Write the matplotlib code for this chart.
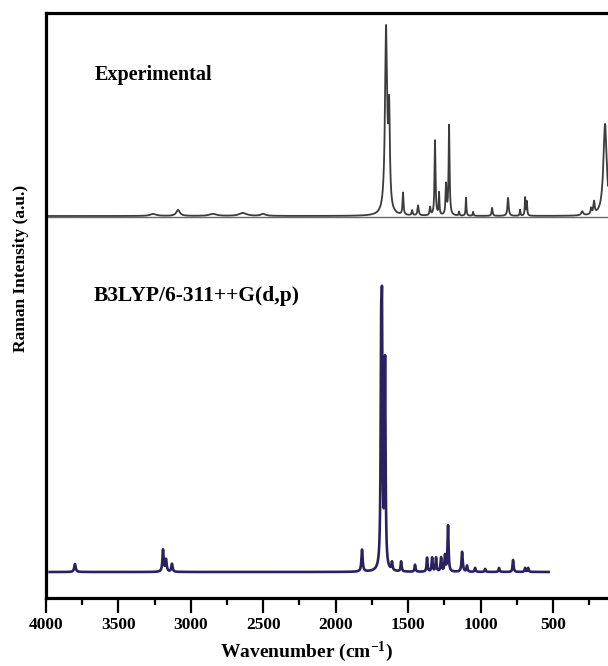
import numpy as np
import matplotlib
matplotlib.use("Agg")
import matplotlib.pyplot as plt
from matplotlib.ticker import MultipleLocator

plt.rcParams['font.family'] = ['Liberation Serif', 'DejaVu Serif']
plt.rcParams['font.weight'] = 'bold'
plt.rcParams['axes.labelweight'] = 'bold'
plt.rcParams['mathtext.default'] = 'regular'

# experimental Raman peaks: position (cm-1), height (a.u.), half width (cm-1)
exp_pos = [3260, 3088, 2847, 2640, 2500, 1652, 1631, 1535, 1472, 1431, 1348, 1314,
           1286, 1238, 1217, 1148, 1100, 1051, 920, 810, 727, 692, 680,
           298, 236, 216, 140]
exp_height = [2, 6, 2, 3, 2, 184, 92, 22, 5, 10, 8, 75,
              22, 30, 90, 4, 18, 4, 8, 18, 6, 18, 14,
              4, 6, 12, 92]
exp_width = [25, 15, 30, 30, 20, 9, 6, 4, 4, 5, 4, 4,
             3, 4, 4, 3, 3, 3, 4, 5, 3, 3, 3,
             8, 5, 5, 14]

# B3LYP/6-311++G(d,p) calculated peaks
calc_pos = [3800, 3192, 3171, 3130, 1818, 1686, 1680, 1659, 1611, 1548, 1452,
            1369, 1334, 1307, 1272, 1245, 1224, 1127, 1093, 1037, 968, 872,
            775, 692, 671]
calc_height = [8, 22, 12, 8, 22, 195, 215, 205, 8, 10, 7,
               14, 14, 14, 14, 16, 46, 20, 6, 4, 3, 4,
               12, 4, 4]
calc_width = [6, 5, 5, 5, 5, 4, 4, 4, 4, 4, 4,
              4, 4, 4, 4, 4, 4, 5, 4, 4, 4, 4,
              4, 4, 4]

exp_offset = 382
calc_offset = 26

wn_exp = np.linspace(120, 3990, 20000)
wn_calc = np.linspace(530, 3975, 20000)


def lorentz(x, pos, h, w):
    y = np.zeros_like(x)
    for p, a, g in zip(pos, h, w):
        y += a * g ** 2 / ((x - p) ** 2 + g ** 2)
    return y


y_exp = exp_offset + lorentz(wn_exp, exp_pos, exp_height, exp_width)
y_calc = calc_offset + lorentz(wn_calc, calc_pos, calc_height, calc_width)

fig = plt.figure(figsize=(6.08, 6.66), dpi=100)
ax = fig.add_axes([46 / 608, 68 / 666, 562 / 608, 585 / 666])

# baseline of the experimental trace
ax.axhline(exp_offset - 1, color='#6a6a6a', lw=1.0)
ax.plot(wn_exp, y_exp, color='#3c3c3c', lw=1.3)
ax.plot(wn_calc, y_calc, color='#2a2260', lw=1.9)

ax.set_xlim(4000, 120)
ax.set_ylim(0, 585)
ax.xaxis.set_major_locator(MultipleLocator(500))
ax.xaxis.set_minor_locator(MultipleLocator(250))
ax.set_yticks([])
ax.tick_params(axis='x', which='major', direction='out', length=10.5, width=1.6,
               labelsize=12.5, pad=3)
ax.tick_params(axis='x', which='minor', direction='out', length=5, width=1.6)

for s in ['left', 'bottom', 'top']:
    ax.spines[s].set_linewidth(2.3)
ax.spines['right'].set_visible(False)

ax.set_xlabel('Wavenumber (cm$^{-1}$)', fontsize=14)
ax.xaxis.set_label_coords(0.463, -0.072)
ax.set_ylabel('Raman Intensity (a.u.)', fontsize=12.5)
ax.yaxis.set_label_coords(-0.030, 0.564)

ax.text(0.087, 0.894, 'Experimental', transform=ax.transAxes,
        fontsize=14.5, va='center', ha='left')
ax.text(0.084, 0.516, 'B3LYP/6-311++G(d,p)', transform=ax.transAxes,
        fontsize=15.5, va='center', ha='left')

fig.savefig('out.png', dpi=100)
